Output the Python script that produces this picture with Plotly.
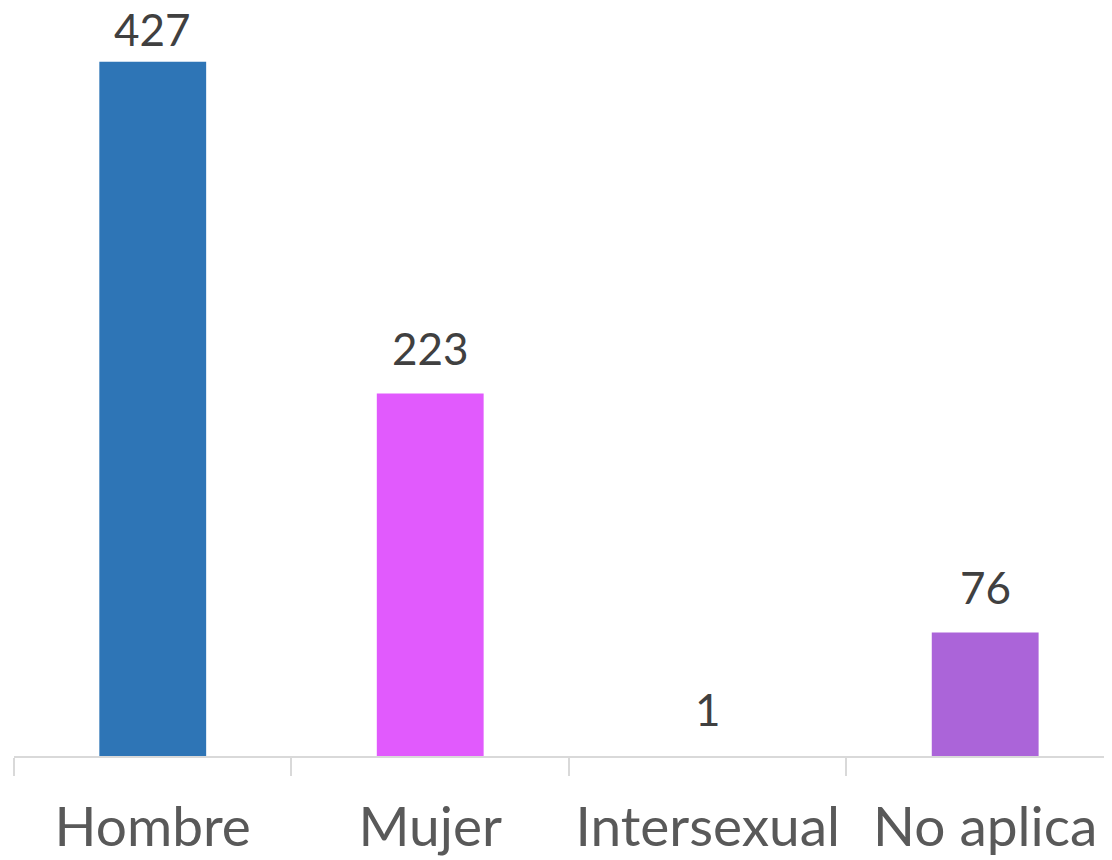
import plotly.graph_objs as go

categories = ['Hombre', 'Mujer', 'Intersexual', 'No aplica']
counts = [427, 223, 1, 76]
bar_colors = ['#2E75B6', '#E15AFD', '#FFFFFF', '#AB64D9']

fig = go.Figure()
fig.add_trace(go.Bar(
    x=categories, y=counts,
    marker=dict(color=bar_colors, line=dict(width=0)),
    width=0.385,
    hoverinfo='x+y',
))

# value labels sit a bit higher than plotly's "outside" text; the tallest one is squeezed by the top edge
for cat, v in zip(categories, counts):
    fig.add_annotation(
        x=cat, y=v, text=str(v), showarrow=False,
        yanchor='bottom', yshift=5 if v == max(counts) else 17,
        font=dict(family='Lato', size=44, color='#404040'),
    )

fig.update_xaxes(
    range=[-0.5, 3.457], automargin=False,
    showline=True, linecolor='#D9D9D9', linewidth=2,
    ticks='outside', tickson='boundaries', ticklen=18, tickcolor='#D9D9D9', tickwidth=2,
    ticklabelstandoff=22, tickangle=0,
    tickfont=dict(family='Lato', size=55, color='#595959'),
    showgrid=False,
)
fig.update_yaxes(range=[0, 460], visible=False, showgrid=False, automargin=False)

# page body has an 8px margin, so the figure is a bit smaller than the window
fig.update_layout(
    width=1104, height=852,
    margin=dict(l=6, r=0, t=0, b=104),
    plot_bgcolor='white', paper_bgcolor='white',
    showlegend=False,
)
fig.write_html("out.html")
